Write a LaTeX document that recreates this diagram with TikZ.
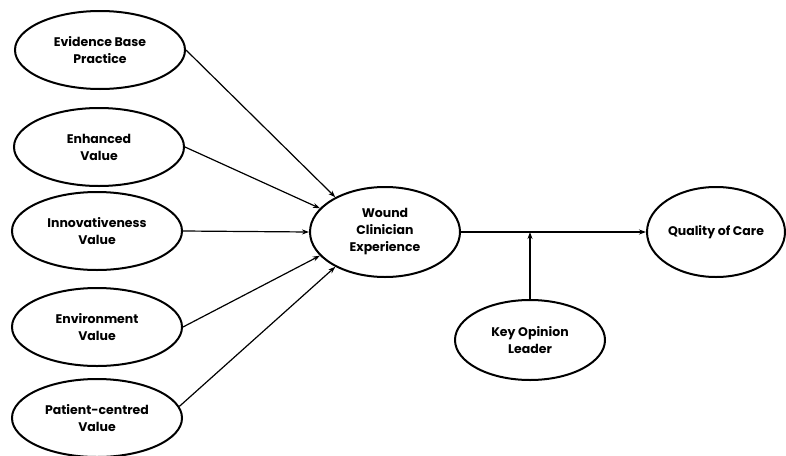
\documentclass[tikz,border=0pt]{standalone}
\usepackage{fontspec}
\setmainfont{Poppins}
\usepackage{tikz}
\usetikzlibrary{arrows, positioning, arrows.meta, shapes.geometric}

\begin{document}
\begin{tikzpicture}[
        x=1pt, y=-1pt,
        every node/.style={ellipse, draw, line width=2pt, align=center, inner sep=0pt,
            font=\fontsize{12.5}{17}\selectfont\bfseries},
        construct/.style={minimum width=170pt, minimum height=78pt},
        core/.style={minimum width=150pt, minimum height=90pt},
        ->, >={Stealth[length=7pt, width=5pt]},
        line width=1.2pt
    ]

    \useasboundingbox (0,0) rectangle (786,455);

    % Antecedents
    \node[construct] (ebp) at (100, 50) {Evidence Base\\Practice};
    \node[construct] (enh) at (99, 147) {Enhanced\\Value};
    \node[construct] (inn) at (97, 231) {Innovativeness\\Value};
    \node[construct] (env) at (97, 327) {Environment\\Value};
    \node[construct] (pat) at (97, 418) {Patient-centred\\Value};

    % Mediator and outcome
    \node[core] (wce) at (385, 232) {Wound\\Clinician\\Experience};
    \node[core, minimum width=138pt] (qoc) at (716, 232) {Quality of Care};

    % Moderator
    \node[core, minimum height=80pt] (kol) at (530, 340) {Key Opinion\\Leader};

    % Paths into the clinician experience
    \draw (ebp.east) -- (wce.145);
    \draw (enh.east) -- (wce.160);
    \draw (inn.east) -- (wce.west);
    \draw (env.east) -- (wce.200);
    \draw (pat.8) -- (wce.215);

    % Outcome path
    \draw (wce.east) -- (qoc.west);

    % Moderating effect
    \coordinate (mod) at (kol.north |- wce.east);
    \draw (kol.north) -- (mod);

\end{tikzpicture}
\end{document}
